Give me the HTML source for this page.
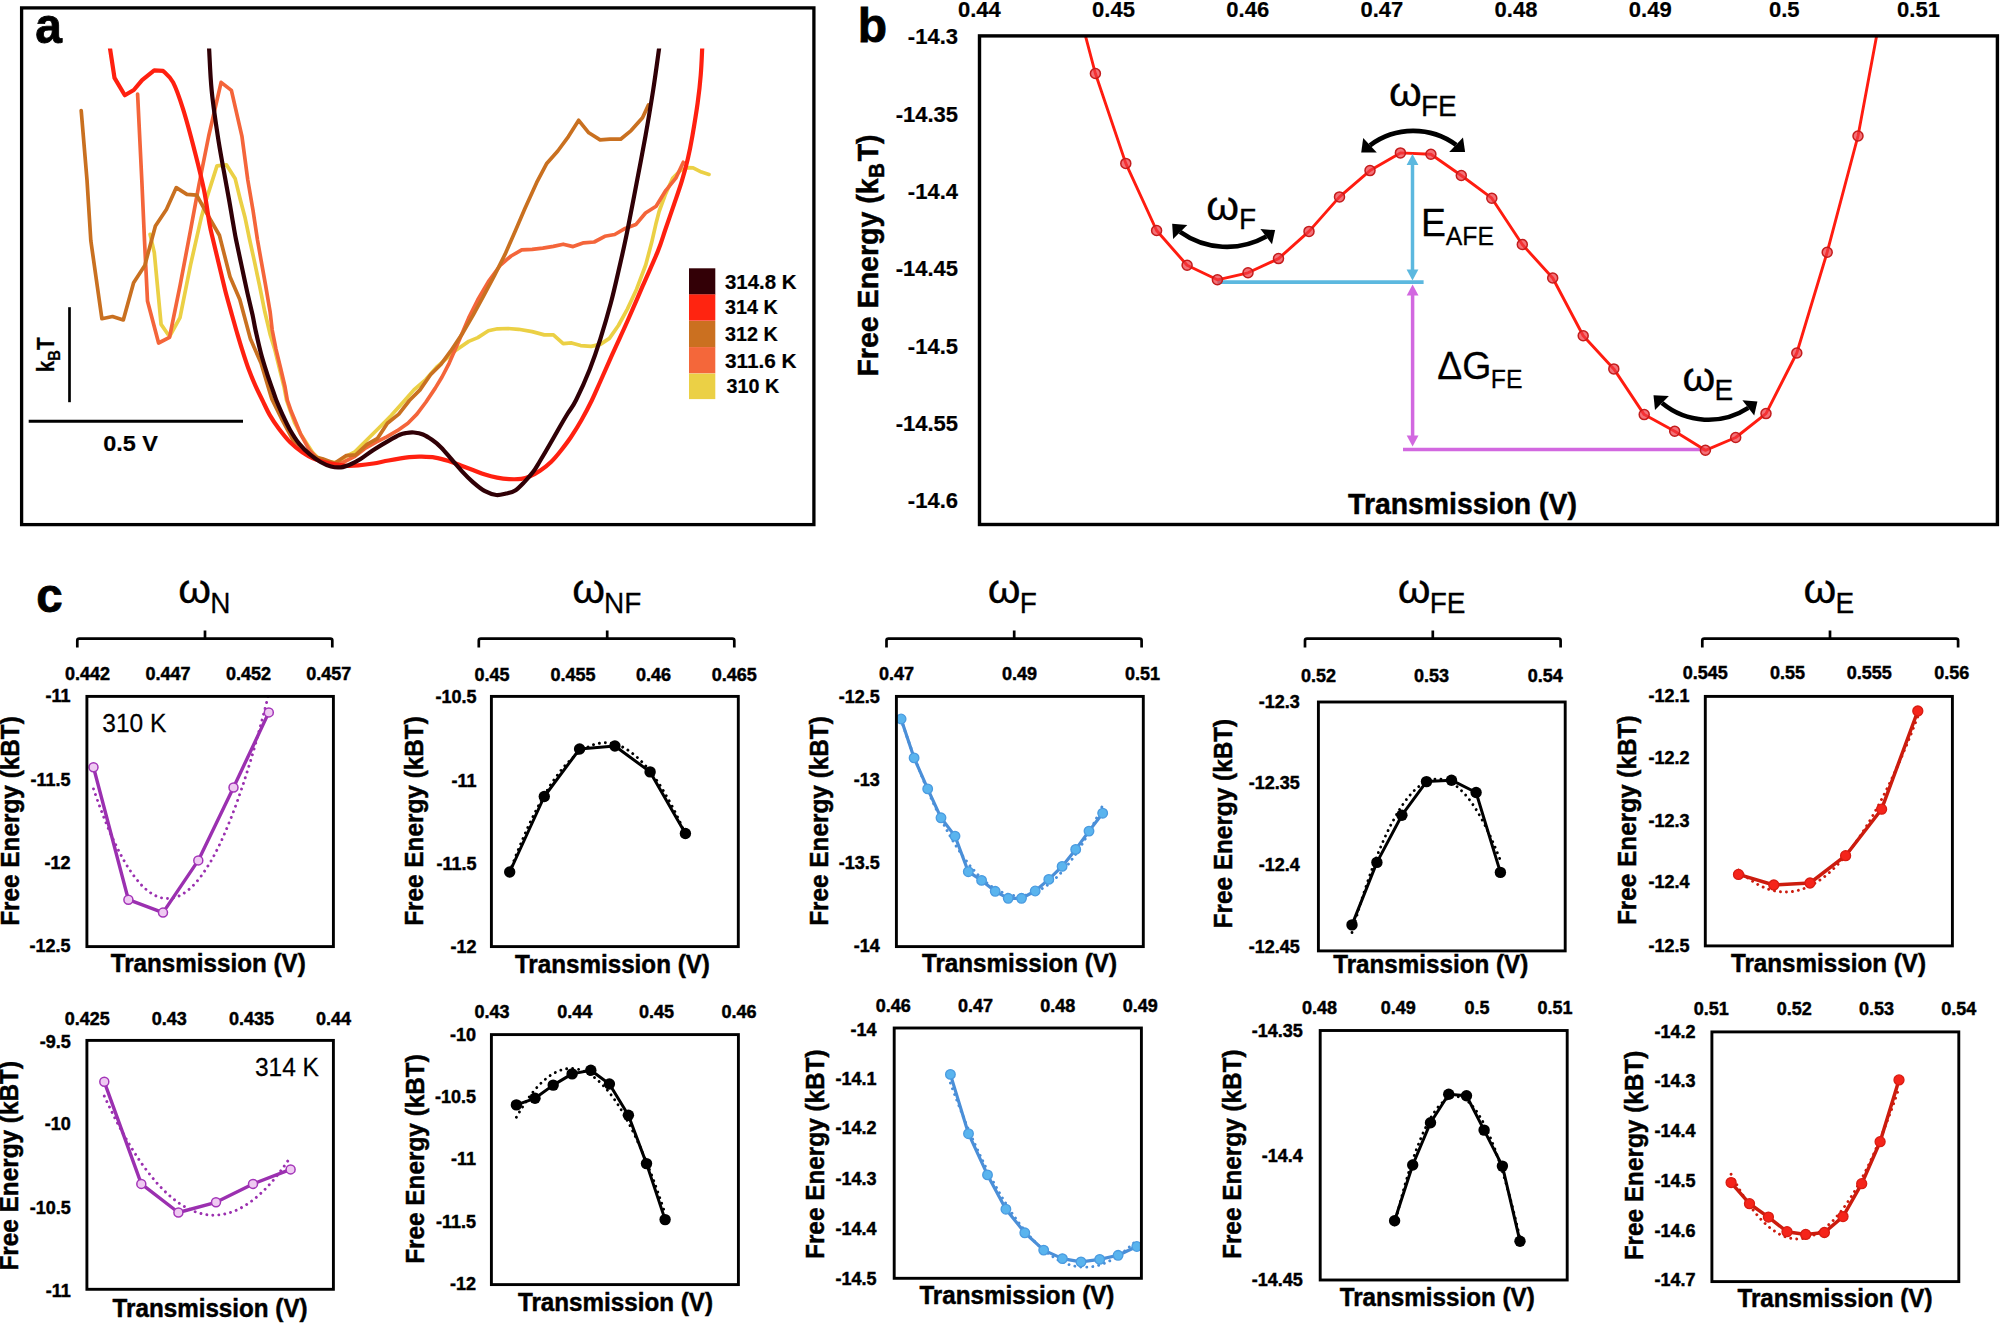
<!DOCTYPE html>
<html lang="en">
<head>
<meta charset="utf-8">
<title>Free energy landscapes</title>
<style>
html,body{margin:0;padding:0;background:#fff;}
body{width:2000px;height:1323px;overflow:hidden;}
svg{display:block;font-family:'Liberation Sans', sans-serif;fill:#000;}
</style>
</head>
<body>
<svg width="2000" height="1323" viewBox="0 0 2000 1323">
<rect x="0" y="0" width="2000" height="1323" fill="#fff"/>
<!-- panel a -->
<clipPath id="clipA"><rect x="24" y="48.4" width="788" height="474"/></clipPath>
<g clip-path="url(#clipA)" fill="none" stroke-linejoin="round" stroke-linecap="round">
<polyline points="150.1,234.4 154.3,252.6 161.1,324.4 169.5,336.5 180,317.6 190.6,264.7 201.2,217.8 207.2,196.6 217,165.9 226.4,164.8 235.1,178.4 240.4,200 245.1,217.8 249.7,240 254.2,260.4 259.5,285.4 264.8,311.8 270.3,335 274.6,348.9 279.3,367.8 284,386.7 286.5,400 290.5,411.3 294.6,422.7 300.6,434 306.9,443.8 312.9,452.9 317.4,457.4 325,461.5 336.8,462.5 345.9,456.4 354.9,451.9 367,439.8 379.1,427.7 391.2,415.6 403.3,402 413.9,389.9 426,379.3 436.6,367.2 448.7,356.6 456.6,349.7 468.7,341.4 477.8,337.6 488.4,330.8 497.5,328.8 508,328.5 518.6,329.3 532.2,331.6 544.3,334.9 553.4,334.9 563.2,343.7 571.6,342.9 580.6,345.6 591.2,346.4 600.3,344.4 609.4,338.4 618.4,325.5 627.5,308.9 636.6,289.2 645.7,265 651.7,242.3 656.2,222.7 659.1,211.5 665.2,194.8 672.7,178.2 680.3,170.6 687.9,167.6 693.1,167.9 701.5,172.1 709,174.4" stroke="#ebd045" stroke-width="3.7"/>
<polyline points="137.6,94.1 141.8,180 144.5,240.5 147.5,301 158.6,343 169.5,337.3 180,285.9 190.6,229.9 199,184.5 208.7,136 221.1,82.4 231.4,90.4 241.9,136.1 247.8,180 253,210.2 257.5,240 261.1,260.4 265.6,285.4 270.1,311.8 272.2,330 275.9,348.9 280.5,367.8 285,386.7 287.3,400 291.2,411.3 300.5,433.8 309.6,450.4 318.6,459.5 330.7,464 342.8,462.5 354.9,456.4 365.5,448.1 376.1,442.1 386.7,436.8 397.3,430.7 407.9,423.2 416.9,414.1 426,402 435.1,388.4 442,377 449.1,363.3 459.7,339.1 468.7,317.9 477.8,299.8 488.4,281.7 500.5,265 511.1,256 521.7,249.9 532.2,249.4 542.8,248.1 553.4,246.4 563.2,244.2 573.1,246.6 583.7,242.8 594.2,242 604.8,236.3 614.7,234.5 625.2,228.4 635.8,224.6 645.5,213 656.1,206.2 665.9,190.3 675.8,178.2 683.3,162.3" stroke="#f4653a" stroke-width="3.7"/>
<polyline points="81.2,110.7 87,180 90.8,240.5 101.9,318.7 112.5,316.5 123.3,319.9 133.6,282.8 144.8,265.4 155.4,226.1 166.4,209.5 176.3,187.6 186.9,194.4 196.7,195.1 208,215.5 219.4,235.2 230,276.8 239.8,299.5 250.4,338.8 261,363 271.8,399 282.3,420.1 292.9,439.8 303.5,448.9 312.6,456.4 322.4,458.7 334.5,463.2 345.9,455.7 355.7,454.9 367,444.3 377.6,438.3 387.4,423.2 398.8,414.1 409.4,400.5 420,389.9 430.5,374.8 441.1,364.2 450.6,351.2 462.7,333.1 473.3,314.9 483.9,295.3 494.4,275.6 505,254.4 515.6,230.2 524.7,209.1 536.6,182.7 546.5,163.8 557.8,151 568.4,136.6 578.7,120.3 588.8,132.8 600.1,139.9 610,139.2 620.6,139.2 631.1,130.6 642.5,117.7 648.5,104.9" stroke="#c97020" stroke-width="3.7"/>
<path d="M109.6 40 L110 48.4 L114.5 77.9 L124.8 95.3 L133.8 90 L142.1 80.1 L154.2 70.3 L163 70.8 L163 70.8 C164.7 72.7 169.8 76.1 173.1 82.4 C176.4 88.8 179.3 97.2 183 108.9 C186.7 120.6 191.6 139.1 195.1 152.7 C198.6 166.3 201.7 178.6 204.1 190.5 C206.5 202.4 208 215.7 209.5 223.9 C211 232.2 211.5 233.2 213.1 240 C214.7 246.8 217.1 256.6 219.1 264.9 C221.1 273.2 223 281.6 225.1 289.9 C227.2 298.2 230.1 308.1 231.9 314.8 C233.8 321.5 234.6 324.3 236.2 330 C237.9 335.7 239.8 342.3 241.9 348.9 C244 355.4 246.4 363.1 248.7 369.3 C251 375.5 253.2 380.8 255.5 385.9 C257.8 391 259.9 395.1 262.3 400 C264.7 404.9 267 410.3 269.8 415.1 C272.6 419.9 275.5 424.2 278.9 428.7 C282.3 433.2 286.3 438.4 290.2 442.3 C294.1 446.2 298.5 449.6 302.3 452.2 C306.1 454.8 309.2 456.6 312.9 458.2 C316.5 459.8 320.4 461 324.2 462 C328 463 331.8 463.7 335.6 464.3 C339.4 464.9 343.1 465.6 346.9 465.8 C350.7 466 353.9 465.8 358.3 465.4 C362.7 465 368.4 464.3 373.4 463.5 C378.4 462.7 382.5 461.6 388.5 460.5 C394.5 459.4 403.9 457.8 409.4 457.2 C414.9 456.6 417.2 456.6 421.5 456.7 C425.8 456.8 430.6 456.9 435.1 457.6 C439.6 458.3 444.4 459.7 448.7 461 C453 462.3 456.8 464 460.8 465.5 C464.8 467 468.9 468.5 472.9 470 C476.9 471.5 481 473.3 485 474.6 C489 475.9 493.1 476.9 497.1 477.6 C501.1 478.4 505.2 478.9 509.2 479.1 C513.2 479.3 517.8 479.3 521.3 478.8 C524.8 478.3 527.2 477.4 530.3 476.1 C533.4 474.8 536.5 473.2 540 470.8 C543.5 468.4 547.5 465.4 551 462 C554.5 458.6 557.7 454.7 561 450.5 C564.3 446.3 567.6 442.1 571 437 C574.4 431.9 578 426.2 581.5 420 C585 413.8 588.9 406.4 592 400 C595.1 393.6 596.9 389.1 600.3 381.5 C603.7 373.9 607.9 364.3 612.4 354.2 C616.9 344.1 622.5 332.3 627.5 321 C632.5 309.7 637.6 297.8 642.6 286.2 C647.6 274.6 654 260.8 657.8 251.4 C661.6 242 662.5 237.9 665.2 230 C667.9 222.1 671.4 212 674.2 203.9 C677 195.8 679.5 188.8 681.8 181.2 C684.1 173.6 686.1 166.1 687.9 158.5 C689.7 150.9 690.8 145.2 692.4 135.9 C694 126.6 696.3 112.7 697.7 102.6 C699.1 92.5 700 84.4 700.7 75.4 C701.5 66.4 701.9 54.3 702.2 48.4 C702.5 42.5 702.5 41.4 702.6 40" stroke="#ff2010" stroke-width="4.2"/>
<path d="M208.8 40 C208.9 41.4 208.6 40 209.1 48.4 C209.6 56.8 210.2 76.1 211.7 90.7 C213.1 105.3 215.8 122.7 217.8 136.1 C219.8 149.5 221.9 160.2 223.8 170.9 C225.7 181.6 227.5 191.2 229.1 200 C230.7 208.8 232 217.2 233.2 223.9 C234.4 230.6 234.7 233.2 236.1 240 C237.5 246.8 239.5 256.1 241.4 264.9 C243.3 273.7 245.5 284.4 247.4 292.9 C249.3 301.3 251.3 309.4 252.7 315.6 C254 321.8 254.2 323.8 255.5 330 C256.9 336.2 258.9 345.5 260.8 352.7 C262.7 359.9 264.9 366.8 266.9 373.1 C268.9 379.4 271.3 386 272.9 390.5 C274.5 395 274.6 395.9 276.2 400 C277.9 404.1 280.4 410.1 282.7 415.1 C285 420.1 287.4 425.4 290.2 430.2 C293 435 296 439.8 299.3 443.8 C302.6 447.8 306.4 451.4 309.9 454.4 C313.4 457.4 317 460 320.5 462 C324 464 327.6 465.6 331 466.5 C334.4 467.4 337.6 467.7 340.9 467.3 C344.2 466.9 347.4 465.6 350.7 464.2 C354 462.8 356.7 461.4 360.5 459 C364.3 456.6 368.7 452.9 373.4 449.9 C378.1 446.9 384.1 443.3 388.5 440.8 C392.9 438.3 396.8 436.1 399.8 434.8 C402.8 433.5 404 433.4 406.3 433 C408.6 432.6 411.1 432.2 413.9 432.5 C416.7 432.8 420 433.3 423 434.5 C426 435.7 429 437.7 432 439.8 C435 441.9 437.8 444.1 441.1 447.4 C444.4 450.7 448.2 455.5 451.7 459.5 C455.2 463.5 458.8 467.8 462.3 471.6 C465.8 475.4 469.1 478.8 472.9 482.1 C476.7 485.4 481.1 489.1 485 491.2 C488.9 493.3 492.8 494.6 496.3 495 C499.8 495.4 503 494.2 506.1 493.5 C509.2 492.8 512.2 492.4 515.2 490.5 C518.2 488.6 521.3 485.2 524.3 482.1 C527.3 479 530.8 475.1 533.4 471.6 C536 468.1 537.2 465.6 540 461 C542.8 456.4 546.7 449.8 550 444 C553.3 438.2 557 431.7 560 426.5 C563 421.3 565.3 417.4 568 413 C570.7 408.6 572.5 407.3 576.1 400 C579.7 392.7 585.7 379.5 589.7 369.4 C593.7 359.2 596.8 350.2 600.3 339.1 C603.8 328 607.6 315.2 610.9 302.8 C614.2 290.4 617.1 277.1 619.9 265 C622.7 252.9 624.8 243.7 627.5 230.2 C630.2 216.7 633.4 199.9 636.4 184.2 C639.4 168.5 642.7 151.5 645.5 135.9 C648.3 120.3 650.8 105.1 653.1 90.5 C655.4 75.9 657.9 56.8 659.1 48.4 C660.3 40 660 41.4 660.2 40" stroke="#300006" stroke-width="4.2"/>
</g>
<rect x="21.6" y="7.9" width="792.3" height="516.7" fill="none" stroke="#000" stroke-width="3.3"/>
<text transform="translate(35.3 42.6) scale(1 1.03)" font-size="48" font-weight="bold" text-anchor="start" stroke="#000" stroke-width="0.8">a</text>
<line x1="69.5" y1="307.2" x2="69.5" y2="402.2" stroke="#000" stroke-width="2.7"/>
<line x1="28.7" y1="421.3" x2="243" y2="421.3" stroke="#000" stroke-width="3"/>
<text transform="translate(130.6 450.8) scale(1 1.02)" font-size="22.5" font-weight="bold" text-anchor="middle" textLength="54.7" lengthAdjust="spacingAndGlyphs" stroke="#000" stroke-width="0.2">0.5 V</text>
<text transform="translate(53.7 372.2) rotate(-90) scale(0.885 1)" font-size="23.5" font-weight="bold" text-anchor="start" stroke="#000" stroke-width="0.3">k<tspan font-size="16.5" dy="6.5">B</tspan><tspan dy="-6.5">T</tspan></text>
<rect x="689" y="268.3" width="26.3" height="26.3" fill="#330006"/>
<text transform="translate(725 288.8) scale(1 1.02)" font-size="19.3" font-weight="bold" text-anchor="start" textLength="71.6" lengthAdjust="spacingAndGlyphs" stroke="#000" stroke-width="0.2">314.8 K</text>
<rect x="689" y="294.4" width="26.3" height="26.3" fill="#ff2410"/>
<text transform="translate(725 314.3) scale(1 1.02)" font-size="19.3" font-weight="bold" text-anchor="start" textLength="52.7" lengthAdjust="spacingAndGlyphs" stroke="#000" stroke-width="0.2">314 K</text>
<rect x="689" y="321" width="26.3" height="26.3" fill="#cb7020"/>
<text transform="translate(725 340.6) scale(1 1.02)" font-size="19.3" font-weight="bold" text-anchor="start" textLength="52.7" lengthAdjust="spacingAndGlyphs" stroke="#000" stroke-width="0.2">312 K</text>
<rect x="689" y="347.1" width="26.3" height="26.3" fill="#f4673a"/>
<text transform="translate(725 367.6) scale(1 1.02)" font-size="19.3" font-weight="bold" text-anchor="start" textLength="71.6" lengthAdjust="spacingAndGlyphs" stroke="#000" stroke-width="0.2">311.6 K</text>
<rect x="689" y="373.6" width="26.3" height="25.5" fill="#ebd045"/>
<text transform="translate(726.6 393.3) scale(1 1.02)" font-size="19.3" font-weight="bold" text-anchor="start" textLength="52.7" lengthAdjust="spacingAndGlyphs" stroke="#000" stroke-width="0.2">310 K</text>
<!-- panel b -->
<text transform="translate(857.7 42) scale(1 1)" font-size="48" font-weight="bold" text-anchor="start" stroke="#000" stroke-width="0.8">b</text>
<clipPath id="clipB"><rect x="979.5" y="35.9" width="1017.9" height="488.6"/></clipPath>
<line x1="1217.4" y1="282.1" x2="1423.6" y2="282.1" stroke="#5cb8df" stroke-width="3.6"/>
<line x1="1403" y1="449.5" x2="1705.4" y2="449.5" stroke="#d268e0" stroke-width="3.6"/>
<g clip-path="url(#clipB)">
<polyline points="1064.9,-41.8 1095.4,73.5 1125.8,163.4 1156.6,230.5 1187.1,265.3 1217.4,279.8 1248,272.8 1278.5,258.6 1309,231.4 1339.5,196.9 1370,170.6 1400.4,152.9 1430.9,154.3 1461.3,175.5 1491.8,198.2 1522.3,244.5 1552.7,278 1583.2,335.8 1613.8,368.9 1644.2,414.6 1674.7,431.2 1705.4,450.3 1735.7,437.5 1766,413.6 1796.8,353 1827.2,252.2 1858,136 1888.5,-28" fill="none" stroke="#ff1c10" stroke-width="2.9" stroke-linejoin="round"/>
</g>
<line x1="1412.5" y1="164" x2="1412.5" y2="270.4" stroke="#5cb8df" stroke-width="3.5"/>
<polygon points="1412.5,154 1406.6,165 1418.4,165" fill="#5cb8df"/>
<polygon points="1412.5,280.4 1406.6,269.4 1418.4,269.4" fill="#5cb8df"/>
<line x1="1412.6" y1="294.6" x2="1412.6" y2="436.6" stroke="#d268e0" stroke-width="3.5"/>
<polygon points="1412.6,284.6 1406.7,295.6 1418.5,295.6" fill="#d268e0"/>
<polygon points="1412.6,446.6 1406.7,435.6 1418.5,435.6" fill="#d268e0"/>
<circle cx="1095.4" cy="73.5" r="5" fill="#f03a42" fill-opacity="0.72" stroke="#c41c1c" stroke-width="1.5"/>
<circle cx="1125.8" cy="163.4" r="5" fill="#f03a42" fill-opacity="0.72" stroke="#c41c1c" stroke-width="1.5"/>
<circle cx="1156.6" cy="230.5" r="5" fill="#f03a42" fill-opacity="0.72" stroke="#c41c1c" stroke-width="1.5"/>
<circle cx="1187.1" cy="265.3" r="5" fill="#f03a42" fill-opacity="0.72" stroke="#c41c1c" stroke-width="1.5"/>
<circle cx="1217.4" cy="279.8" r="5" fill="#f03a42" fill-opacity="0.72" stroke="#c41c1c" stroke-width="1.5"/>
<circle cx="1248" cy="272.8" r="5" fill="#f03a42" fill-opacity="0.72" stroke="#c41c1c" stroke-width="1.5"/>
<circle cx="1278.5" cy="258.6" r="5" fill="#f03a42" fill-opacity="0.72" stroke="#c41c1c" stroke-width="1.5"/>
<circle cx="1309" cy="231.4" r="5" fill="#f03a42" fill-opacity="0.72" stroke="#c41c1c" stroke-width="1.5"/>
<circle cx="1339.5" cy="196.9" r="5" fill="#f03a42" fill-opacity="0.72" stroke="#c41c1c" stroke-width="1.5"/>
<circle cx="1370" cy="170.6" r="5" fill="#f03a42" fill-opacity="0.72" stroke="#c41c1c" stroke-width="1.5"/>
<circle cx="1400.4" cy="152.9" r="5" fill="#f03a42" fill-opacity="0.72" stroke="#c41c1c" stroke-width="1.5"/>
<circle cx="1430.9" cy="154.3" r="5" fill="#f03a42" fill-opacity="0.72" stroke="#c41c1c" stroke-width="1.5"/>
<circle cx="1461.3" cy="175.5" r="5" fill="#f03a42" fill-opacity="0.72" stroke="#c41c1c" stroke-width="1.5"/>
<circle cx="1491.8" cy="198.2" r="5" fill="#f03a42" fill-opacity="0.72" stroke="#c41c1c" stroke-width="1.5"/>
<circle cx="1522.3" cy="244.5" r="5" fill="#f03a42" fill-opacity="0.72" stroke="#c41c1c" stroke-width="1.5"/>
<circle cx="1552.7" cy="278" r="5" fill="#f03a42" fill-opacity="0.72" stroke="#c41c1c" stroke-width="1.5"/>
<circle cx="1583.2" cy="335.8" r="5" fill="#f03a42" fill-opacity="0.72" stroke="#c41c1c" stroke-width="1.5"/>
<circle cx="1613.8" cy="368.9" r="5" fill="#f03a42" fill-opacity="0.72" stroke="#c41c1c" stroke-width="1.5"/>
<circle cx="1644.2" cy="414.6" r="5" fill="#f03a42" fill-opacity="0.72" stroke="#c41c1c" stroke-width="1.5"/>
<circle cx="1674.7" cy="431.2" r="5" fill="#f03a42" fill-opacity="0.72" stroke="#c41c1c" stroke-width="1.5"/>
<circle cx="1705.4" cy="450.3" r="5" fill="#f03a42" fill-opacity="0.72" stroke="#c41c1c" stroke-width="1.5"/>
<circle cx="1735.7" cy="437.5" r="5" fill="#f03a42" fill-opacity="0.72" stroke="#c41c1c" stroke-width="1.5"/>
<circle cx="1766" cy="413.6" r="5" fill="#f03a42" fill-opacity="0.72" stroke="#c41c1c" stroke-width="1.5"/>
<circle cx="1796.8" cy="353" r="5" fill="#f03a42" fill-opacity="0.72" stroke="#c41c1c" stroke-width="1.5"/>
<circle cx="1827.2" cy="252.2" r="5" fill="#f03a42" fill-opacity="0.72" stroke="#c41c1c" stroke-width="1.5"/>
<circle cx="1858" cy="136" r="5" fill="#f03a42" fill-opacity="0.72" stroke="#c41c1c" stroke-width="1.5"/>
<rect x="979.5" y="35.9" width="1017.9" height="488.6" fill="none" stroke="#000" stroke-width="3.4"/>
<text transform="translate(979.4 17) scale(1 1.04)" font-size="22" font-weight="bold" text-anchor="middle" stroke="#000" stroke-width="0.2">0.44</text>
<text transform="translate(1113.5 17) scale(1 1.04)" font-size="22" font-weight="bold" text-anchor="middle" stroke="#000" stroke-width="0.2">0.45</text>
<text transform="translate(1247.7 17) scale(1 1.04)" font-size="22" font-weight="bold" text-anchor="middle" stroke="#000" stroke-width="0.2">0.46</text>
<text transform="translate(1381.8 17) scale(1 1.04)" font-size="22" font-weight="bold" text-anchor="middle" stroke="#000" stroke-width="0.2">0.47</text>
<text transform="translate(1516 17) scale(1 1.04)" font-size="22" font-weight="bold" text-anchor="middle" stroke="#000" stroke-width="0.2">0.48</text>
<text transform="translate(1650.2 17) scale(1 1.04)" font-size="22" font-weight="bold" text-anchor="middle" stroke="#000" stroke-width="0.2">0.49</text>
<text transform="translate(1784.3 17) scale(1 1.04)" font-size="22" font-weight="bold" text-anchor="middle" stroke="#000" stroke-width="0.2">0.5</text>
<text transform="translate(1918.5 17) scale(1 1.04)" font-size="22" font-weight="bold" text-anchor="middle" stroke="#000" stroke-width="0.2">0.51</text>
<text transform="translate(958 44.2) scale(1 1.04)" font-size="22" font-weight="bold" text-anchor="end" stroke="#000" stroke-width="0.2">-14.3</text>
<text transform="translate(958 121.5) scale(1 1.04)" font-size="22" font-weight="bold" text-anchor="end" stroke="#000" stroke-width="0.2">-14.35</text>
<text transform="translate(958 198.8) scale(1 1.04)" font-size="22" font-weight="bold" text-anchor="end" stroke="#000" stroke-width="0.2">-14.4</text>
<text transform="translate(958 276.2) scale(1 1.04)" font-size="22" font-weight="bold" text-anchor="end" stroke="#000" stroke-width="0.2">-14.45</text>
<text transform="translate(958 353.5) scale(1 1.04)" font-size="22" font-weight="bold" text-anchor="end" stroke="#000" stroke-width="0.2">-14.5</text>
<text transform="translate(958 430.8) scale(1 1.04)" font-size="22" font-weight="bold" text-anchor="end" stroke="#000" stroke-width="0.2">-14.55</text>
<text transform="translate(958 508.1) scale(1 1.04)" font-size="22" font-weight="bold" text-anchor="end" stroke="#000" stroke-width="0.2">-14.6</text>
<text transform="translate(877.7 255.5) rotate(-90) scale(1 1.065)" font-size="28.55" font-weight="bold" text-anchor="middle" stroke="#000" stroke-width="0.45">Free Energy (k<tspan font-size="20.2" dx="0.7" dy="6">B</tspan><tspan dx="1.7" dy="-6">T)</tspan></text>
<text transform="translate(1462.5 514.3) scale(1 1.07)" font-size="28.4" font-weight="bold" text-anchor="middle" stroke="#000" stroke-width="0.45">Transmission (V)</text>
<path d="M1180.1 231.9 A80.5 80.5 0 0 0 1266.3 236.6" fill="none" stroke="#000" stroke-width="4.6"/>
<polygon points="1172.2,223.8 1187.3,225.1 1173.1,238.9" fill="#000"/>
<polygon points="1275.1,230.1 1260.4,229.1 1272,244.3" fill="#000"/>
<path d="M1370 145.3 A72.3 72.3 0 0 1 1456.1 144.9" fill="none" stroke="#000" stroke-width="4.6"/>
<polygon points="1361.2,152.5 1376.8,152.5 1363.2,138" fill="#000"/>
<polygon points="1465.1,152.1 1449.2,152.1 1463,137.6" fill="#000"/>
<path d="M1662 403.1 A72.8 72.8 0 0 0 1748.3 407.9" fill="none" stroke="#000" stroke-width="4.6"/>
<polygon points="1653.5,395.2 1668.9,396.1 1655,410.1" fill="#000"/>
<polygon points="1757.4,401.6 1742.4,400.3 1754.2,415.5" fill="#000"/>
<text transform="translate(1206.2 219.7) scale(1.05 1)" font-size="40" font-weight="normal" text-anchor="start" stroke="#000" stroke-width="0.3">&#969;</text>
<text transform="translate(1239 229) scale(1 1.04)" font-size="28" font-weight="normal" text-anchor="start" stroke="#000" stroke-width="0.25">F</text>
<text transform="translate(1389 106.1) scale(1.05 1)" font-size="40" font-weight="normal" text-anchor="start" stroke="#000" stroke-width="0.3">&#969;</text>
<text transform="translate(1421 115.5) scale(1 1.04)" font-size="28" font-weight="normal" text-anchor="start" stroke="#000" stroke-width="0.25">FE</text>
<text transform="translate(1682.5 390.9) scale(1.05 1)" font-size="40" font-weight="normal" text-anchor="start" stroke="#000" stroke-width="0.3">&#969;</text>
<text transform="translate(1714.5 400) scale(1 1.04)" font-size="28" font-weight="normal" text-anchor="start" stroke="#000" stroke-width="0.25">E</text>
<text transform="translate(1421 236) scale(1 1.04)" font-size="37.4" font-weight="normal" text-anchor="start" stroke="#000" stroke-width="0.25">E</text>
<text transform="translate(1445.7 244.8) scale(1 1.04)" font-size="24.8" font-weight="normal" text-anchor="start" stroke="#000" stroke-width="0.25">AFE</text>
<text transform="translate(1437.2 379.2) scale(1 1.04)" font-size="37.4" font-weight="normal" text-anchor="start" stroke="#000" stroke-width="0.25">&#916;G</text>
<text transform="translate(1490.8 388) scale(1 1.04)" font-size="24.8" font-weight="normal" text-anchor="start" stroke="#000" stroke-width="0.25">FE</text>
<!-- panel c -->
<text transform="translate(36.3 612) scale(1 1)" font-size="47.5" font-weight="bold" text-anchor="start" stroke="#000" stroke-width="0.8">c</text>
<path d="M77.3 647.4 V640.5 Q77.3 638.6 79.3 638.6 H330.3 Q332.3 638.6 332.3 640.5 V647.4 M205 638.6 V630.4" fill="none" stroke="#000" stroke-width="2.7"/>
<text transform="translate(178.2 603.4) scale(1.05 1)" font-size="40" font-weight="normal" text-anchor="start" stroke="#000" stroke-width="0.3">&#969;</text>
<text transform="translate(210.2 612.7) scale(1 1.04)" font-size="28" font-weight="normal" text-anchor="start" stroke="#000" stroke-width="0.25">N</text>
<clipPath id="c107"><rect x="86.9" y="696.4" width="246.5" height="250.2"/></clipPath>
<g clip-path="url(#c107)" fill="none">
<polyline points="93.5,767.3 128.4,899.7 163,912.6 198.3,860.4 233.5,787.5 268.8,712.4" stroke="#9b30b0" stroke-width="3.4" stroke-linejoin="round"/>
<path d="M93.5 788.9 C94.2 791 96.5 797.6 98 801.8 C99.5 805.9 101 810 102.5 813.9 C104 817.8 105.5 821.5 107 825.2 C108.5 828.8 110 832.3 111.5 835.7 C113 839 114.5 842.2 116 845.3 C117.5 848.4 119 851.4 120.5 854.2 C122 857 123.5 859.7 125 862.3 C126.5 864.8 128 867.3 129.5 869.5 C131 871.8 132.5 874 134 876 C135.5 878 137 879.9 138.4 881.6 C139.9 883.4 141.4 885 142.9 886.5 C144.4 887.9 145.9 889.3 147.4 890.5 C148.9 891.7 150.4 892.8 151.9 893.7 C153.4 894.6 154.9 895.4 156.4 896.1 C157.9 896.8 159.4 897.3 160.9 897.7 C162.4 898.1 163.9 898.4 165.4 898.5 C166.9 898.6 168.4 898.6 169.9 898.5 C171.4 898.3 172.9 898.1 174.4 897.7 C175.9 897.2 177.4 896.7 178.9 896 C180.4 895.3 181.9 894.5 183.4 893.6 C184.9 892.6 186.4 891.5 187.9 890.3 C189.4 889.1 190.9 887.8 192.4 886.3 C193.9 884.8 195.4 883.2 196.9 881.4 C198.4 879.6 199.9 877.8 201.4 875.7 C202.9 873.7 204.4 871.5 205.9 869.2 C207.4 866.9 208.9 864.5 210.4 862 C211.9 859.4 213.4 856.7 214.9 853.9 C216.4 851 217.9 848.1 219.4 844.9 C220.9 841.8 222.4 838.6 223.9 835.2 C225.3 831.9 226.8 828.4 228.3 824.7 C229.8 821.1 231.3 817.3 232.8 813.4 C234.3 809.5 235.8 805.4 237.3 801.2 C238.8 797.1 240.3 792.7 241.8 788.3 C243.3 783.8 244.8 779.3 246.3 774.5 C247.8 769.8 249.3 765 250.8 760 C252.3 755 253.8 749.9 255.3 744.6 C256.8 739.3 258.3 733.9 259.8 728.4 C261.3 722.9 262.8 717.2 264.3 711.4 C265.8 705.6 268.1 696.6 268.8 693.6" stroke="#9b30b0" stroke-width="2.9" stroke-linecap="round" stroke-dasharray="0.01 6"/>
<circle cx="93.5" cy="767.3" r="4.5" fill="#efcaf2" stroke="#a335b8" stroke-width="1.5"/>
<circle cx="128.4" cy="899.7" r="4.5" fill="#efcaf2" stroke="#a335b8" stroke-width="1.5"/>
<circle cx="163" cy="912.6" r="4.5" fill="#efcaf2" stroke="#a335b8" stroke-width="1.5"/>
<circle cx="198.3" cy="860.4" r="4.5" fill="#efcaf2" stroke="#a335b8" stroke-width="1.5"/>
<circle cx="233.5" cy="787.5" r="4.5" fill="#efcaf2" stroke="#a335b8" stroke-width="1.5"/>
<circle cx="268.8" cy="712.4" r="4.5" fill="#efcaf2" stroke="#a335b8" stroke-width="1.5"/>
</g>
<rect x="86.9" y="696.4" width="246.5" height="250.2" fill="none" stroke="#000" stroke-width="2.9"/>
<text transform="translate(87.5 679.7) scale(1 1.07)" font-size="18" font-weight="bold" text-anchor="middle" stroke="#000" stroke-width="0.45">0.442</text>
<text transform="translate(168 679.7) scale(1 1.07)" font-size="18" font-weight="bold" text-anchor="middle" stroke="#000" stroke-width="0.45">0.447</text>
<text transform="translate(248.5 679.7) scale(1 1.07)" font-size="18" font-weight="bold" text-anchor="middle" stroke="#000" stroke-width="0.45">0.452</text>
<text transform="translate(328.7 679.7) scale(1 1.07)" font-size="18" font-weight="bold" text-anchor="middle" stroke="#000" stroke-width="0.45">0.457</text>
<text transform="translate(70.5 702.4) scale(1 1.07)" font-size="18" font-weight="bold" text-anchor="end" stroke="#000" stroke-width="0.45">-11</text>
<text transform="translate(70.5 785.8) scale(1 1.07)" font-size="18" font-weight="bold" text-anchor="end" stroke="#000" stroke-width="0.45">-11.5</text>
<text transform="translate(70.5 869.1) scale(1 1.07)" font-size="18" font-weight="bold" text-anchor="end" stroke="#000" stroke-width="0.45">-12</text>
<text transform="translate(70.5 952.4) scale(1 1.07)" font-size="18" font-weight="bold" text-anchor="end" stroke="#000" stroke-width="0.45">-12.5</text>
<text transform="translate(18.9 821) rotate(-90) scale(1 1.07)" font-size="24" font-weight="bold" text-anchor="middle" textLength="209.6" lengthAdjust="spacingAndGlyphs" stroke="#000" stroke-width="0.45">Free Energy (kBT)</text>
<text transform="translate(208.2 972) scale(1 1.07)" font-size="24" font-weight="bold" text-anchor="middle" textLength="195" lengthAdjust="spacingAndGlyphs" stroke="#000" stroke-width="0.45">Transmission (V)</text>
<text transform="translate(102.3 731.8) scale(1 1.04)" font-size="24.5" font-weight="normal" text-anchor="start" stroke="#000" stroke-width="0.25">310 K</text>
<clipPath id="c130"><rect x="86.9" y="1040.4" width="246.5" height="248.9"/></clipPath>
<g clip-path="url(#c130)" fill="none">
<polyline points="104.3,1081.8 141.3,1183.9 178.4,1212.5 216,1202.3 253,1183.9 290.6,1169.4" stroke="#9b30b0" stroke-width="3.4" stroke-linejoin="round"/>
<path d="M104.3 1096.1 C105.1 1097.8 107.5 1102.9 109.1 1106.3 C110.7 1109.6 112.3 1112.8 113.9 1116 C115.4 1119.1 117 1122.2 118.6 1125.2 C120.2 1128.2 121.8 1131.1 123.4 1134 C125 1136.9 126.6 1139.6 128.2 1142.4 C129.8 1145.1 131.4 1147.7 133 1150.2 C134.6 1152.8 136.1 1155.3 137.7 1157.7 C139.3 1160.1 140.9 1162.4 142.5 1164.7 C144.1 1166.9 145.7 1169.1 147.3 1171.2 C148.9 1173.3 150.5 1175.3 152.1 1177.3 C153.7 1179.2 155.3 1181.1 156.8 1182.9 C158.4 1184.7 160 1186.4 161.6 1188.1 C163.2 1189.7 164.8 1191.3 166.4 1192.8 C168 1194.3 169.6 1195.7 171.2 1197.1 C172.8 1198.4 174.4 1199.7 176 1200.9 C177.5 1202.1 179.1 1203.2 180.7 1204.3 C182.3 1205.3 183.9 1206.3 185.5 1207.2 C187.1 1208.1 188.7 1208.9 190.3 1209.7 C191.9 1210.4 193.5 1211.1 195.1 1211.7 C196.7 1212.3 198.2 1212.8 199.8 1213.2 C201.4 1213.7 203 1214 204.6 1214.3 C206.2 1214.6 207.8 1214.8 209.4 1215 C211 1215.1 212.6 1215.2 214.2 1215.2 C215.8 1215.2 217.4 1215.1 218.9 1214.9 C220.5 1214.8 222.1 1214.5 223.7 1214.2 C225.3 1213.9 226.9 1213.5 228.5 1213.1 C230.1 1212.6 231.7 1212.1 233.3 1211.5 C234.9 1210.9 236.5 1210.2 238.1 1209.4 C239.6 1208.6 241.2 1207.8 242.8 1206.9 C244.4 1206 246 1205 247.6 1203.9 C249.2 1202.9 250.8 1201.7 252.4 1200.5 C254 1199.3 255.6 1198 257.2 1196.6 C258.8 1195.3 260.3 1193.8 261.9 1192.3 C263.5 1190.8 265.1 1189.2 266.7 1187.5 C268.3 1185.9 269.9 1184.1 271.5 1182.3 C273.1 1180.5 274.7 1178.6 276.3 1176.6 C277.9 1174.7 279.5 1172.6 281 1170.5 C282.6 1168.4 284.2 1166.2 285.8 1163.9 C287.4 1161.6 289.8 1158 290.6 1156.9" stroke="#9b30b0" stroke-width="2.9" stroke-linecap="round" stroke-dasharray="0.01 6"/>
<circle cx="104.3" cy="1081.8" r="4.5" fill="#efcaf2" stroke="#a335b8" stroke-width="1.5"/>
<circle cx="141.3" cy="1183.9" r="4.5" fill="#efcaf2" stroke="#a335b8" stroke-width="1.5"/>
<circle cx="178.4" cy="1212.5" r="4.5" fill="#efcaf2" stroke="#a335b8" stroke-width="1.5"/>
<circle cx="216" cy="1202.3" r="4.5" fill="#efcaf2" stroke="#a335b8" stroke-width="1.5"/>
<circle cx="253" cy="1183.9" r="4.5" fill="#efcaf2" stroke="#a335b8" stroke-width="1.5"/>
<circle cx="290.6" cy="1169.4" r="4.5" fill="#efcaf2" stroke="#a335b8" stroke-width="1.5"/>
</g>
<rect x="86.9" y="1040.4" width="246.5" height="248.9" fill="none" stroke="#000" stroke-width="2.9"/>
<text transform="translate(87.3 1024.9) scale(1 1.07)" font-size="18" font-weight="bold" text-anchor="middle" stroke="#000" stroke-width="0.45">0.425</text>
<text transform="translate(169.3 1024.9) scale(1 1.07)" font-size="18" font-weight="bold" text-anchor="middle" stroke="#000" stroke-width="0.45">0.43</text>
<text transform="translate(251.4 1024.9) scale(1 1.07)" font-size="18" font-weight="bold" text-anchor="middle" stroke="#000" stroke-width="0.45">0.435</text>
<text transform="translate(333.4 1024.9) scale(1 1.07)" font-size="18" font-weight="bold" text-anchor="middle" stroke="#000" stroke-width="0.45">0.44</text>
<text transform="translate(70.8 1047.6) scale(1 1.07)" font-size="18" font-weight="bold" text-anchor="end" stroke="#000" stroke-width="0.45">-9.5</text>
<text transform="translate(70.8 1130.4) scale(1 1.07)" font-size="18" font-weight="bold" text-anchor="end" stroke="#000" stroke-width="0.45">-10</text>
<text transform="translate(70.8 1213.9) scale(1 1.07)" font-size="18" font-weight="bold" text-anchor="end" stroke="#000" stroke-width="0.45">-10.5</text>
<text transform="translate(70.8 1296.6) scale(1 1.07)" font-size="18" font-weight="bold" text-anchor="end" stroke="#000" stroke-width="0.45">-11</text>
<text transform="translate(18.2 1165.8) rotate(-90) scale(1 1.07)" font-size="24" font-weight="bold" text-anchor="middle" textLength="209.6" lengthAdjust="spacingAndGlyphs" stroke="#000" stroke-width="0.45">Free Energy (kBT)</text>
<text transform="translate(210.1 1316.5) scale(1 1.07)" font-size="24" font-weight="bold" text-anchor="middle" textLength="195" lengthAdjust="spacingAndGlyphs" stroke="#000" stroke-width="0.45">Transmission (V)</text>
<text transform="translate(318.9 1075.8) scale(1 1.04)" font-size="24.5" font-weight="normal" text-anchor="end" stroke="#000" stroke-width="0.25">314 K</text>
<path d="M478.8 647.4 V640.5 Q478.8 638.6 480.8 638.6 H732.3 Q734.3 638.6 734.3 640.5 V647.4 M607.2 638.6 V630.4" fill="none" stroke="#000" stroke-width="2.7"/>
<text transform="translate(572.2 603.4) scale(1.05 1)" font-size="40" font-weight="normal" text-anchor="start" stroke="#000" stroke-width="0.3">&#969;</text>
<text transform="translate(604.1 612.7) scale(1 1.04)" font-size="28" font-weight="normal" text-anchor="start" stroke="#000" stroke-width="0.25">NF</text>
<clipPath id="c156"><rect x="491.4" y="696.4" width="246.9" height="250.2"/></clipPath>
<g clip-path="url(#c156)" fill="none">
<polyline points="509.7,872 544.3,796.5 579.6,749 614.9,746 650.1,771.9 685.4,833.5" stroke="#000" stroke-width="3" stroke-linejoin="round"/>
<path d="M509.7 872 C510.5 870 512.7 864 514.2 860.1 C515.7 856.2 517.2 852.4 518.7 848.8 C520.2 845.1 521.7 841.5 523.2 838 C524.7 834.5 526.2 831.1 527.7 827.8 C529.2 824.5 530.7 821.3 532.2 818.2 C533.7 815.1 535.2 812.1 536.7 809.2 C538.2 806.3 539.7 803.4 541.2 800.7 C542.7 798 544.2 795.4 545.7 792.8 C547.2 790.3 548.7 787.9 550.2 785.5 C551.7 783.2 553.2 780.9 554.8 778.8 C556.3 776.7 557.8 774.6 559.3 772.6 C560.8 770.7 562.3 768.8 563.8 767.1 C565.3 765.3 566.8 763.6 568.3 762.1 C569.8 760.5 571.3 759 572.8 757.6 C574.3 756.3 575.8 755 577.3 753.8 C578.8 752.6 580.3 751.5 581.8 750.5 C583.3 749.5 584.8 748.6 586.3 747.8 C587.8 747 589.3 746.3 590.8 745.7 C592.3 745.1 593.8 744.6 595.3 744.1 C596.8 743.7 598.3 743.4 599.8 743.2 C601.3 742.9 602.8 742.8 604.3 742.8 C605.8 742.7 607.3 742.8 608.8 743 C610.3 743.1 611.8 743.4 613.3 743.7 C614.8 744.1 616.3 744.5 617.8 745 C619.3 745.6 620.8 746.2 622.3 746.9 C623.8 747.7 625.3 748.5 626.8 749.4 C628.3 750.3 629.8 751.4 631.3 752.5 C632.8 753.6 634.3 754.8 635.8 756.1 C637.3 757.4 638.8 758.8 640.3 760.3 C641.9 761.8 643.4 763.4 644.9 765.1 C646.4 766.8 647.9 768.6 649.4 770.5 C650.9 772.3 652.4 774.3 653.9 776.4 C655.4 778.5 656.9 780.6 658.4 782.9 C659.9 785.2 661.4 787.5 662.9 790 C664.4 792.5 665.9 795 667.4 797.7 C668.9 800.3 670.4 803.1 671.9 805.9 C673.4 808.7 674.9 811.7 676.4 814.7 C677.9 817.7 679.4 820.9 680.9 824.1 C682.4 827.3 684.6 832.4 685.4 834.1" stroke="#000" stroke-width="2.9" stroke-linecap="round" stroke-dasharray="0.01 6"/>
<circle cx="509.7" cy="872" r="5.7" fill="#000" stroke="#000" stroke-width="0"/>
<circle cx="544.3" cy="796.5" r="5.7" fill="#000" stroke="#000" stroke-width="0"/>
<circle cx="579.6" cy="749" r="5.7" fill="#000" stroke="#000" stroke-width="0"/>
<circle cx="614.9" cy="746" r="5.7" fill="#000" stroke="#000" stroke-width="0"/>
<circle cx="650.1" cy="771.9" r="5.7" fill="#000" stroke="#000" stroke-width="0"/>
<circle cx="685.4" cy="833.5" r="5.7" fill="#000" stroke="#000" stroke-width="0"/>
</g>
<rect x="491.4" y="696.4" width="246.9" height="250.2" fill="none" stroke="#000" stroke-width="2.9"/>
<text transform="translate(492.1 681.2) scale(1 1.07)" font-size="18" font-weight="bold" text-anchor="middle" stroke="#000" stroke-width="0.45">0.45</text>
<text transform="translate(573 681.2) scale(1 1.07)" font-size="18" font-weight="bold" text-anchor="middle" stroke="#000" stroke-width="0.45">0.455</text>
<text transform="translate(653.5 681.2) scale(1 1.07)" font-size="18" font-weight="bold" text-anchor="middle" stroke="#000" stroke-width="0.45">0.46</text>
<text transform="translate(734.3 681.2) scale(1 1.07)" font-size="18" font-weight="bold" text-anchor="middle" stroke="#000" stroke-width="0.45">0.465</text>
<text transform="translate(476.5 703.4) scale(1 1.07)" font-size="18" font-weight="bold" text-anchor="end" stroke="#000" stroke-width="0.45">-10.5</text>
<text transform="translate(476.5 786.6) scale(1 1.07)" font-size="18" font-weight="bold" text-anchor="end" stroke="#000" stroke-width="0.45">-11</text>
<text transform="translate(476.5 869.8) scale(1 1.07)" font-size="18" font-weight="bold" text-anchor="end" stroke="#000" stroke-width="0.45">-11.5</text>
<text transform="translate(476.5 953) scale(1 1.07)" font-size="18" font-weight="bold" text-anchor="end" stroke="#000" stroke-width="0.45">-12</text>
<text transform="translate(423.2 821) rotate(-90) scale(1 1.07)" font-size="24" font-weight="bold" text-anchor="middle" textLength="209.6" lengthAdjust="spacingAndGlyphs" stroke="#000" stroke-width="0.45">Free Energy (kBT)</text>
<text transform="translate(612.4 973.2) scale(1 1.07)" font-size="24" font-weight="bold" text-anchor="middle" textLength="195" lengthAdjust="spacingAndGlyphs" stroke="#000" stroke-width="0.45">Transmission (V)</text>
<clipPath id="c178"><rect x="491.4" y="1034.6" width="247" height="250"/></clipPath>
<g clip-path="url(#c178)" fill="none">
<polyline points="516.4,1104.9 535,1098.3 553.2,1085.1 572.1,1073.9 590.8,1070.3 609.4,1084 628.4,1115.3 646.5,1163.6 665.1,1219.6" stroke="#000" stroke-width="3" stroke-linejoin="round"/>
<path d="M516.4 1117.3 C517 1116.2 518.9 1112.9 520.2 1110.7 C521.5 1108.6 522.8 1106.6 524 1104.6 C525.3 1102.7 526.6 1100.8 527.8 1099 C529.1 1097.2 530.4 1095.5 531.7 1093.8 C532.9 1092.2 534.2 1090.6 535.5 1089.1 C536.7 1087.7 538 1086.3 539.3 1084.9 C540.5 1083.6 541.8 1082.4 543.1 1081.2 C544.4 1080.1 545.6 1079 546.9 1078 C548.2 1077 549.4 1076 550.7 1075.2 C552 1074.3 553.3 1073.6 554.5 1072.9 C555.8 1072.2 557.1 1071.6 558.3 1071.1 C559.6 1070.5 560.9 1070.1 562.2 1069.7 C563.4 1069.4 564.7 1069.1 566 1068.9 C567.2 1068.7 568.5 1068.5 569.8 1068.5 C571.1 1068.4 572.3 1068.5 573.6 1068.6 C574.9 1068.7 576.1 1068.9 577.4 1069.1 C578.7 1069.4 579.9 1069.7 581.2 1070.2 C582.5 1070.6 583.8 1071.1 585 1071.7 C586.3 1072.3 587.6 1072.9 588.8 1073.7 C590.1 1074.4 591.4 1075.3 592.7 1076.2 C593.9 1077.1 595.2 1078 596.5 1079.1 C597.7 1080.2 599 1081.3 600.3 1082.5 C601.6 1083.8 602.8 1085.1 604.1 1086.4 C605.4 1087.8 606.6 1089.3 607.9 1090.8 C609.2 1092.4 610.4 1094 611.7 1095.7 C613 1097.4 614.3 1099.2 615.5 1101 C616.8 1102.9 618.1 1104.8 619.3 1106.8 C620.6 1108.8 621.9 1110.9 623.2 1113.1 C624.4 1115.3 625.7 1117.5 627 1119.9 C628.2 1122.2 629.5 1124.6 630.8 1127.1 C632.1 1129.6 633.3 1132.2 634.6 1134.8 C635.9 1137.5 637.1 1140.2 638.4 1143 C639.7 1145.9 641 1148.7 642.2 1151.7 C643.5 1154.7 644.8 1157.7 646 1160.9 C647.3 1164 648.6 1167.2 649.8 1170.5 C651.1 1173.8 652.4 1177.1 653.7 1180.6 C654.9 1184 656.2 1187.6 657.5 1191.2 C658.7 1194.8 660 1198.5 661.3 1202.2 C662.6 1206 664.5 1211.9 665.1 1213.8" stroke="#000" stroke-width="2.9" stroke-linecap="round" stroke-dasharray="0.01 6"/>
<circle cx="516.4" cy="1104.9" r="5.7" fill="#000" stroke="#000" stroke-width="0"/>
<circle cx="535" cy="1098.3" r="5.7" fill="#000" stroke="#000" stroke-width="0"/>
<circle cx="553.2" cy="1085.1" r="5.7" fill="#000" stroke="#000" stroke-width="0"/>
<circle cx="572.1" cy="1073.9" r="5.7" fill="#000" stroke="#000" stroke-width="0"/>
<circle cx="590.8" cy="1070.3" r="5.7" fill="#000" stroke="#000" stroke-width="0"/>
<circle cx="609.4" cy="1084" r="5.7" fill="#000" stroke="#000" stroke-width="0"/>
<circle cx="628.4" cy="1115.3" r="5.7" fill="#000" stroke="#000" stroke-width="0"/>
<circle cx="646.5" cy="1163.6" r="5.7" fill="#000" stroke="#000" stroke-width="0"/>
<circle cx="665.1" cy="1219.6" r="5.7" fill="#000" stroke="#000" stroke-width="0"/>
</g>
<rect x="491.4" y="1034.6" width="247" height="250" fill="none" stroke="#000" stroke-width="2.9"/>
<text transform="translate(492 1017.7) scale(1 1.07)" font-size="18" font-weight="bold" text-anchor="middle" stroke="#000" stroke-width="0.45">0.43</text>
<text transform="translate(574.8 1017.7) scale(1 1.07)" font-size="18" font-weight="bold" text-anchor="middle" stroke="#000" stroke-width="0.45">0.44</text>
<text transform="translate(656.6 1017.7) scale(1 1.07)" font-size="18" font-weight="bold" text-anchor="middle" stroke="#000" stroke-width="0.45">0.45</text>
<text transform="translate(739 1017.7) scale(1 1.07)" font-size="18" font-weight="bold" text-anchor="middle" stroke="#000" stroke-width="0.45">0.46</text>
<text transform="translate(476 1041) scale(1 1.07)" font-size="18" font-weight="bold" text-anchor="end" stroke="#000" stroke-width="0.45">-10</text>
<text transform="translate(476 1102.8) scale(1 1.07)" font-size="18" font-weight="bold" text-anchor="end" stroke="#000" stroke-width="0.45">-10.5</text>
<text transform="translate(476 1165.4) scale(1 1.07)" font-size="18" font-weight="bold" text-anchor="end" stroke="#000" stroke-width="0.45">-11</text>
<text transform="translate(476 1228.4) scale(1 1.07)" font-size="18" font-weight="bold" text-anchor="end" stroke="#000" stroke-width="0.45">-11.5</text>
<text transform="translate(476 1290.4) scale(1 1.07)" font-size="18" font-weight="bold" text-anchor="end" stroke="#000" stroke-width="0.45">-12</text>
<text transform="translate(424.2 1159) rotate(-90) scale(1 1.07)" font-size="24" font-weight="bold" text-anchor="middle" textLength="209.6" lengthAdjust="spacingAndGlyphs" stroke="#000" stroke-width="0.45">Free Energy (kBT)</text>
<text transform="translate(615.5 1311) scale(1 1.07)" font-size="24" font-weight="bold" text-anchor="middle" textLength="195" lengthAdjust="spacingAndGlyphs" stroke="#000" stroke-width="0.45">Transmission (V)</text>
<path d="M886.5 647.4 V640.5 Q886.5 638.6 888.5 638.6 H1139.6 Q1141.6 638.6 1141.6 640.5 V647.4 M1014.2 638.6 V630.4" fill="none" stroke="#000" stroke-width="2.7"/>
<text transform="translate(987.8 603.4) scale(1.05 1)" font-size="40" font-weight="normal" text-anchor="start" stroke="#000" stroke-width="0.3">&#969;</text>
<text transform="translate(1019.7 612.7) scale(1 1.04)" font-size="28" font-weight="normal" text-anchor="start" stroke="#000" stroke-width="0.25">F</text>
<clipPath id="c207"><rect x="896.4" y="696.4" width="246.9" height="250.2"/></clipPath>
<g clip-path="url(#c207)" fill="none">
<polyline points="901.1,719 914.1,757.9 927.7,788.9 941,817.8 955,836.1 968.3,871.7 981.6,880.4 995.2,891.3 1008.2,898.3 1021.5,898.3 1035.2,891 1048.8,879.4 1062.1,866.4 1075.7,849.4 1089,831.1 1102.7,813.2" stroke="#4b8fd8" stroke-width="3.2" stroke-linejoin="round"/>
<path d="M901.1 719.6 C902 722.1 904.5 729.8 906.3 734.8 C908 739.7 909.7 744.5 911.4 749.3 C913.2 754 914.9 758.6 916.6 763.1 C918.3 767.5 920.1 771.9 921.8 776.2 C923.5 780.4 925.2 784.6 926.9 788.6 C928.7 792.7 930.4 796.6 932.1 800.4 C933.8 804.2 935.6 807.9 937.3 811.4 C939 815 940.7 818.5 942.5 821.8 C944.2 825.2 945.9 828.4 947.6 831.5 C949.3 834.7 951.1 837.7 952.8 840.6 C954.5 843.5 956.2 846.2 958 848.9 C959.7 851.6 961.4 854.1 963.1 856.6 C964.9 859 966.6 861.3 968.3 863.5 C970 865.8 971.7 867.9 973.5 869.8 C975.2 871.8 976.9 873.7 978.6 875.4 C980.4 877.2 982.1 878.8 983.8 880.4 C985.5 881.9 987.3 883.3 989 884.6 C990.7 885.9 992.4 887.1 994.1 888.2 C995.9 889.3 997.6 890.2 999.3 891.1 C1001 891.9 1002.8 892.6 1004.5 893.3 C1006.2 893.9 1007.9 894.4 1009.7 894.8 C1011.4 895.2 1013.1 895.5 1014.8 895.6 C1016.5 895.8 1018.3 895.8 1020 895.8 C1021.7 895.7 1023.4 895.5 1025.2 895.2 C1026.9 894.9 1028.6 894.5 1030.3 894 C1032.1 893.5 1033.8 892.9 1035.5 892.1 C1037.2 891.4 1038.9 890.5 1040.7 889.5 C1042.4 888.6 1044.1 887.5 1045.8 886.3 C1047.6 885.1 1049.3 883.8 1051 882.3 C1052.7 880.9 1054.5 879.4 1056.2 877.7 C1057.9 876.1 1059.6 874.3 1061.3 872.4 C1063.1 870.5 1064.8 868.5 1066.5 866.4 C1068.2 864.3 1070 862.1 1071.7 859.7 C1073.4 857.4 1075.1 854.9 1076.9 852.4 C1078.6 849.8 1080.3 847.1 1082 844.3 C1083.7 841.5 1085.5 838.6 1087.2 835.6 C1088.9 832.6 1090.6 829.5 1092.4 826.2 C1094.1 823 1095.8 819.6 1097.5 816.1 C1099.3 812.6 1101.8 807.1 1102.7 805.3" stroke="#4b8fd8" stroke-width="2.9" stroke-linecap="round" stroke-dasharray="0.01 6"/>
<circle cx="901.1" cy="719" r="4.8" fill="#5ab4ee" stroke="#4a9be0" stroke-width="1.3"/>
<circle cx="914.1" cy="757.9" r="4.8" fill="#5ab4ee" stroke="#4a9be0" stroke-width="1.3"/>
<circle cx="927.7" cy="788.9" r="4.8" fill="#5ab4ee" stroke="#4a9be0" stroke-width="1.3"/>
<circle cx="941" cy="817.8" r="4.8" fill="#5ab4ee" stroke="#4a9be0" stroke-width="1.3"/>
<circle cx="955" cy="836.1" r="4.8" fill="#5ab4ee" stroke="#4a9be0" stroke-width="1.3"/>
<circle cx="968.3" cy="871.7" r="4.8" fill="#5ab4ee" stroke="#4a9be0" stroke-width="1.3"/>
<circle cx="981.6" cy="880.4" r="4.8" fill="#5ab4ee" stroke="#4a9be0" stroke-width="1.3"/>
<circle cx="995.2" cy="891.3" r="4.8" fill="#5ab4ee" stroke="#4a9be0" stroke-width="1.3"/>
<circle cx="1008.2" cy="898.3" r="4.8" fill="#5ab4ee" stroke="#4a9be0" stroke-width="1.3"/>
<circle cx="1021.5" cy="898.3" r="4.8" fill="#5ab4ee" stroke="#4a9be0" stroke-width="1.3"/>
<circle cx="1035.2" cy="891" r="4.8" fill="#5ab4ee" stroke="#4a9be0" stroke-width="1.3"/>
<circle cx="1048.8" cy="879.4" r="4.8" fill="#5ab4ee" stroke="#4a9be0" stroke-width="1.3"/>
<circle cx="1062.1" cy="866.4" r="4.8" fill="#5ab4ee" stroke="#4a9be0" stroke-width="1.3"/>
<circle cx="1075.7" cy="849.4" r="4.8" fill="#5ab4ee" stroke="#4a9be0" stroke-width="1.3"/>
<circle cx="1089" cy="831.1" r="4.8" fill="#5ab4ee" stroke="#4a9be0" stroke-width="1.3"/>
<circle cx="1102.7" cy="813.2" r="4.8" fill="#5ab4ee" stroke="#4a9be0" stroke-width="1.3"/>
</g>
<rect x="896.4" y="696.4" width="246.9" height="250.2" fill="none" stroke="#000" stroke-width="2.9"/>
<text transform="translate(896.4 680.4) scale(1 1.07)" font-size="18" font-weight="bold" text-anchor="middle" stroke="#000" stroke-width="0.45">0.47</text>
<text transform="translate(1019.5 680.4) scale(1 1.07)" font-size="18" font-weight="bold" text-anchor="middle" stroke="#000" stroke-width="0.45">0.49</text>
<text transform="translate(1142.6 680.4) scale(1 1.07)" font-size="18" font-weight="bold" text-anchor="middle" stroke="#000" stroke-width="0.45">0.51</text>
<text transform="translate(879.8 702.8) scale(1 1.07)" font-size="18" font-weight="bold" text-anchor="end" stroke="#000" stroke-width="0.45">-12.5</text>
<text transform="translate(879.8 786) scale(1 1.07)" font-size="18" font-weight="bold" text-anchor="end" stroke="#000" stroke-width="0.45">-13</text>
<text transform="translate(879.8 869.1) scale(1 1.07)" font-size="18" font-weight="bold" text-anchor="end" stroke="#000" stroke-width="0.45">-13.5</text>
<text transform="translate(879.8 952.3) scale(1 1.07)" font-size="18" font-weight="bold" text-anchor="end" stroke="#000" stroke-width="0.45">-14</text>
<text transform="translate(828.1 821) rotate(-90) scale(1 1.07)" font-size="24" font-weight="bold" text-anchor="middle" textLength="209.6" lengthAdjust="spacingAndGlyphs" stroke="#000" stroke-width="0.45">Free Energy (kBT)</text>
<text transform="translate(1019.5 972.2) scale(1 1.07)" font-size="24" font-weight="bold" text-anchor="middle" textLength="195" lengthAdjust="spacingAndGlyphs" stroke="#000" stroke-width="0.45">Transmission (V)</text>
<clipPath id="c238"><rect x="894.2" y="1028" width="247.2" height="250.3"/></clipPath>
<g clip-path="url(#c238)" fill="none">
<polyline points="950.4,1074.4 968.5,1133.7 987.5,1174.9 1005.9,1209.2 1024.8,1232.8 1043.7,1250.1 1062.4,1258.6 1081,1261.9 1099.7,1259.4 1118.1,1255.3 1136.8,1246.5" stroke="#4b8fd8" stroke-width="3.2" stroke-linejoin="round"/>
<path d="M950.4 1083.1 C951.2 1085.3 953.6 1091.8 955.2 1096 C956.8 1100.2 958.4 1104.3 960 1108.3 C961.6 1112.4 963.1 1116.4 964.7 1120.3 C966.3 1124.2 967.9 1128 969.5 1131.7 C971.1 1135.5 972.7 1139.1 974.3 1142.7 C975.9 1146.3 977.5 1149.8 979.1 1153.2 C980.7 1156.7 982.3 1160 983.9 1163.3 C985.4 1166.6 987 1169.8 988.6 1172.9 C990.2 1176 991.8 1179 993.4 1182 C995 1185 996.6 1187.9 998.2 1190.7 C999.8 1193.5 1001.4 1196.2 1003 1198.9 C1004.6 1201.5 1006.2 1204.1 1007.8 1206.6 C1009.3 1209.1 1010.9 1211.5 1012.5 1213.9 C1014.1 1216.2 1015.7 1218.5 1017.3 1220.7 C1018.9 1222.9 1020.5 1225 1022.1 1227 C1023.7 1229.1 1025.3 1231 1026.9 1232.9 C1028.5 1234.8 1030.1 1236.6 1031.7 1238.3 C1033.2 1240 1034.8 1241.7 1036.4 1243.3 C1038 1244.8 1039.6 1246.3 1041.2 1247.8 C1042.8 1249.2 1044.4 1250.5 1046 1251.8 C1047.6 1253 1049.2 1254.2 1050.8 1255.3 C1052.4 1256.4 1054 1257.5 1055.5 1258.4 C1057.1 1259.4 1058.7 1260.2 1060.3 1261 C1061.9 1261.8 1063.5 1262.5 1065.1 1263.2 C1066.7 1263.8 1068.3 1264.4 1069.9 1264.9 C1071.5 1265.4 1073.1 1265.8 1074.7 1266.1 C1076.3 1266.4 1077.9 1266.7 1079.4 1266.9 C1081 1267 1082.6 1267.1 1084.2 1267.2 C1085.8 1267.2 1087.4 1267.1 1089 1267 C1090.6 1266.9 1092.2 1266.7 1093.8 1266.4 C1095.4 1266.1 1097 1265.7 1098.6 1265.3 C1100.2 1264.8 1101.8 1264.3 1103.3 1263.7 C1104.9 1263.1 1106.5 1262.4 1108.1 1261.7 C1109.7 1260.9 1111.3 1260.1 1112.9 1259.2 C1114.5 1258.3 1116.1 1257.3 1117.7 1256.2 C1119.3 1255.2 1120.9 1254 1122.5 1252.8 C1124.1 1251.6 1125.6 1250.3 1127.2 1248.9 C1128.8 1247.6 1130.4 1246.1 1132 1244.6 C1133.6 1243.1 1136 1240.6 1136.8 1239.8" stroke="#4b8fd8" stroke-width="2.9" stroke-linecap="round" stroke-dasharray="0.01 6"/>
<circle cx="950.4" cy="1074.4" r="4.8" fill="#5ab4ee" stroke="#4a9be0" stroke-width="1.3"/>
<circle cx="968.5" cy="1133.7" r="4.8" fill="#5ab4ee" stroke="#4a9be0" stroke-width="1.3"/>
<circle cx="987.5" cy="1174.9" r="4.8" fill="#5ab4ee" stroke="#4a9be0" stroke-width="1.3"/>
<circle cx="1005.9" cy="1209.2" r="4.8" fill="#5ab4ee" stroke="#4a9be0" stroke-width="1.3"/>
<circle cx="1024.8" cy="1232.8" r="4.8" fill="#5ab4ee" stroke="#4a9be0" stroke-width="1.3"/>
<circle cx="1043.7" cy="1250.1" r="4.8" fill="#5ab4ee" stroke="#4a9be0" stroke-width="1.3"/>
<circle cx="1062.4" cy="1258.6" r="4.8" fill="#5ab4ee" stroke="#4a9be0" stroke-width="1.3"/>
<circle cx="1081" cy="1261.9" r="4.8" fill="#5ab4ee" stroke="#4a9be0" stroke-width="1.3"/>
<circle cx="1099.7" cy="1259.4" r="4.8" fill="#5ab4ee" stroke="#4a9be0" stroke-width="1.3"/>
<circle cx="1118.1" cy="1255.3" r="4.8" fill="#5ab4ee" stroke="#4a9be0" stroke-width="1.3"/>
<circle cx="1136.8" cy="1246.5" r="4.8" fill="#5ab4ee" stroke="#4a9be0" stroke-width="1.3"/>
</g>
<rect x="894.2" y="1028" width="247.2" height="250.3" fill="none" stroke="#000" stroke-width="2.9"/>
<text transform="translate(893.3 1012.2) scale(1 1.07)" font-size="18" font-weight="bold" text-anchor="middle" stroke="#000" stroke-width="0.45">0.46</text>
<text transform="translate(975.4 1012.2) scale(1 1.07)" font-size="18" font-weight="bold" text-anchor="middle" stroke="#000" stroke-width="0.45">0.47</text>
<text transform="translate(1057.7 1012.2) scale(1 1.07)" font-size="18" font-weight="bold" text-anchor="middle" stroke="#000" stroke-width="0.45">0.48</text>
<text transform="translate(1140.3 1012.2) scale(1 1.07)" font-size="18" font-weight="bold" text-anchor="middle" stroke="#000" stroke-width="0.45">0.49</text>
<text transform="translate(876.6 1035.6) scale(1 1.07)" font-size="18" font-weight="bold" text-anchor="end" stroke="#000" stroke-width="0.45">-14</text>
<text transform="translate(876.6 1085) scale(1 1.07)" font-size="18" font-weight="bold" text-anchor="end" stroke="#000" stroke-width="0.45">-14.1</text>
<text transform="translate(876.6 1134.4) scale(1 1.07)" font-size="18" font-weight="bold" text-anchor="end" stroke="#000" stroke-width="0.45">-14.2</text>
<text transform="translate(876.6 1184.6) scale(1 1.07)" font-size="18" font-weight="bold" text-anchor="end" stroke="#000" stroke-width="0.45">-14.3</text>
<text transform="translate(876.6 1234.5) scale(1 1.07)" font-size="18" font-weight="bold" text-anchor="end" stroke="#000" stroke-width="0.45">-14.4</text>
<text transform="translate(876.6 1284.7) scale(1 1.07)" font-size="18" font-weight="bold" text-anchor="end" stroke="#000" stroke-width="0.45">-14.5</text>
<text transform="translate(824.2 1154.2) rotate(-90) scale(1 1.07)" font-size="24" font-weight="bold" text-anchor="middle" textLength="209.6" lengthAdjust="spacingAndGlyphs" stroke="#000" stroke-width="0.45">Free Energy (kBT)</text>
<text transform="translate(1016.9 1304.2) scale(1 1.07)" font-size="24" font-weight="bold" text-anchor="middle" textLength="195" lengthAdjust="spacingAndGlyphs" stroke="#000" stroke-width="0.45">Transmission (V)</text>
<path d="M1305 647.4 V640.5 Q1305 638.6 1307 638.6 H1558.6 Q1560.6 638.6 1560.6 640.5 V647.4 M1432.8 638.6 V630.4" fill="none" stroke="#000" stroke-width="2.7"/>
<text transform="translate(1397.8 603.4) scale(1.05 1)" font-size="40" font-weight="normal" text-anchor="start" stroke="#000" stroke-width="0.3">&#969;</text>
<text transform="translate(1429.7 612.7) scale(1 1.04)" font-size="28" font-weight="normal" text-anchor="start" stroke="#000" stroke-width="0.25">FE</text>
<clipPath id="c270"><rect x="1318.4" y="702" width="246.8" height="248.9"/></clipPath>
<g clip-path="url(#c270)" fill="none">
<polyline points="1352,924.9 1376.9,862.4 1401.9,815.2 1426.5,781.6 1451.5,780.2 1476.1,792.5 1500.4,872.4" stroke="#000" stroke-width="3" stroke-linejoin="round"/>
<path d="M1352 932.5 C1352.6 930.2 1354.5 923.5 1355.8 919.2 C1357.1 914.8 1358.3 910.6 1359.6 906.4 C1360.9 902.3 1362.1 898.3 1363.4 894.3 C1364.7 890.4 1366 886.6 1367.2 882.9 C1368.5 879.1 1369.8 875.5 1371 872 C1372.3 868.4 1373.6 865 1374.8 861.7 C1376.1 858.3 1377.4 855.1 1378.6 852 C1379.9 848.9 1381.2 845.8 1382.4 842.9 C1383.7 840 1385 837.1 1386.2 834.4 C1387.5 831.7 1388.8 829.1 1390.1 826.5 C1391.3 824 1392.6 821.6 1393.9 819.3 C1395.1 816.9 1396.4 814.7 1397.7 812.6 C1398.9 810.5 1400.2 808.5 1401.5 806.5 C1402.7 804.6 1404 802.8 1405.3 801.1 C1406.5 799.3 1407.8 797.7 1409.1 796.2 C1410.3 794.7 1411.6 793.3 1412.9 791.9 C1414.2 790.6 1415.4 789.4 1416.7 788.3 C1418 787.2 1419.2 786.2 1420.5 785.2 C1421.8 784.3 1423 783.5 1424.3 782.8 C1425.6 782.1 1426.8 781.5 1428.1 781 C1429.4 780.4 1430.6 780 1431.9 779.7 C1433.2 779.4 1434.4 779.2 1435.7 779.1 C1437 779 1438.2 778.9 1439.5 779 C1440.8 779.1 1442.1 779.3 1443.3 779.6 C1444.6 779.9 1445.9 780.3 1447.1 780.8 C1448.4 781.3 1449.7 781.9 1450.9 782.6 C1452.2 783.2 1453.5 784 1454.7 784.9 C1456 785.8 1457.3 786.8 1458.5 787.9 C1459.8 789 1461.1 790.2 1462.3 791.5 C1463.6 792.8 1464.9 794.2 1466.2 795.7 C1467.4 797.2 1468.7 798.8 1470 800.5 C1471.2 802.2 1472.5 804 1473.8 805.9 C1475 807.8 1476.3 809.8 1477.6 811.9 C1478.8 814 1480.1 816.2 1481.4 818.5 C1482.6 820.8 1483.9 823.2 1485.2 825.7 C1486.4 828.2 1487.7 830.8 1489 833.5 C1490.3 836.2 1491.5 839 1492.8 841.9 C1494.1 844.8 1495.3 847.8 1496.6 850.9 C1497.9 854 1499.8 858.9 1500.4 860.5" stroke="#000" stroke-width="2.9" stroke-linecap="round" stroke-dasharray="0.01 6"/>
<circle cx="1352" cy="924.9" r="5.7" fill="#000" stroke="#000" stroke-width="0"/>
<circle cx="1376.9" cy="862.4" r="5.7" fill="#000" stroke="#000" stroke-width="0"/>
<circle cx="1401.9" cy="815.2" r="5.7" fill="#000" stroke="#000" stroke-width="0"/>
<circle cx="1426.5" cy="781.6" r="5.7" fill="#000" stroke="#000" stroke-width="0"/>
<circle cx="1451.5" cy="780.2" r="5.7" fill="#000" stroke="#000" stroke-width="0"/>
<circle cx="1476.1" cy="792.5" r="5.7" fill="#000" stroke="#000" stroke-width="0"/>
<circle cx="1500.4" cy="872.4" r="5.7" fill="#000" stroke="#000" stroke-width="0"/>
</g>
<rect x="1318.4" y="702" width="246.8" height="248.9" fill="none" stroke="#000" stroke-width="2.9"/>
<text transform="translate(1318.4 682.2) scale(1 1.07)" font-size="18" font-weight="bold" text-anchor="middle" stroke="#000" stroke-width="0.45">0.52</text>
<text transform="translate(1431.5 682.2) scale(1 1.07)" font-size="18" font-weight="bold" text-anchor="middle" stroke="#000" stroke-width="0.45">0.53</text>
<text transform="translate(1545.3 682.2) scale(1 1.07)" font-size="18" font-weight="bold" text-anchor="middle" stroke="#000" stroke-width="0.45">0.54</text>
<text transform="translate(1299.8 707.8) scale(1 1.07)" font-size="18" font-weight="bold" text-anchor="end" stroke="#000" stroke-width="0.45">-12.3</text>
<text transform="translate(1299.8 789.3) scale(1 1.07)" font-size="18" font-weight="bold" text-anchor="end" stroke="#000" stroke-width="0.45">-12.35</text>
<text transform="translate(1299.8 871.4) scale(1 1.07)" font-size="18" font-weight="bold" text-anchor="end" stroke="#000" stroke-width="0.45">-12.4</text>
<text transform="translate(1299.8 953.3) scale(1 1.07)" font-size="18" font-weight="bold" text-anchor="end" stroke="#000" stroke-width="0.45">-12.45</text>
<text transform="translate(1231.5 823.6) rotate(-90) scale(1 1.07)" font-size="24" font-weight="bold" text-anchor="middle" textLength="209.6" lengthAdjust="spacingAndGlyphs" stroke="#000" stroke-width="0.45">Free Energy (kBT)</text>
<text transform="translate(1430.7 973.2) scale(1 1.07)" font-size="24" font-weight="bold" text-anchor="middle" textLength="195" lengthAdjust="spacingAndGlyphs" stroke="#000" stroke-width="0.45">Transmission (V)</text>
<clipPath id="c292"><rect x="1320.2" y="1030.5" width="247" height="249.5"/></clipPath>
<g clip-path="url(#c292)" fill="none">
<polyline points="1394.6,1220.7 1412.7,1165 1430.5,1122.7 1448.7,1094.2 1466.5,1095.8 1484.1,1130.1 1502.4,1166.1 1520,1241.3" stroke="#000" stroke-width="3" stroke-linejoin="round"/>
<path d="M1394.6 1224.9 C1395.1 1222.7 1396.7 1216 1397.8 1211.7 C1398.9 1207.4 1400 1203.3 1401 1199.3 C1402.1 1195.2 1403.2 1191.3 1404.2 1187.5 C1405.3 1183.7 1406.4 1180 1407.5 1176.5 C1408.5 1172.9 1409.6 1169.5 1410.7 1166.2 C1411.7 1162.8 1412.8 1159.6 1413.9 1156.6 C1415 1153.5 1416 1150.5 1417.1 1147.7 C1418.2 1144.8 1419.3 1142.1 1420.3 1139.5 C1421.4 1136.9 1422.5 1134.4 1423.5 1132 C1424.6 1129.6 1425.7 1127.4 1426.8 1125.3 C1427.8 1123.1 1428.9 1121.1 1430 1119.2 C1431 1117.3 1432.1 1115.5 1433.2 1113.9 C1434.3 1112.2 1435.3 1110.7 1436.4 1109.2 C1437.5 1107.8 1438.5 1106.5 1439.6 1105.3 C1440.7 1104.1 1441.8 1103.1 1442.8 1102.1 C1443.9 1101.2 1445 1100.3 1446 1099.6 C1447.1 1098.9 1448.2 1098.3 1449.3 1097.8 C1450.3 1097.4 1451.4 1097 1452.5 1096.8 C1453.5 1096.5 1454.6 1096.4 1455.7 1096.4 C1456.8 1096.4 1457.8 1096.5 1458.9 1096.8 C1460 1097 1461.1 1097.4 1462.1 1097.8 C1463.2 1098.3 1464.3 1098.9 1465.3 1099.6 C1466.4 1100.3 1467.5 1101.1 1468.6 1102.1 C1469.6 1103 1470.7 1104.1 1471.8 1105.3 C1472.8 1106.5 1473.9 1107.8 1475 1109.2 C1476.1 1110.6 1477.1 1112.2 1478.2 1113.8 C1479.3 1115.5 1480.3 1117.3 1481.4 1119.2 C1482.5 1121.1 1483.6 1123.1 1484.6 1125.2 C1485.7 1127.3 1486.8 1129.6 1487.8 1132 C1488.9 1134.3 1490 1136.8 1491.1 1139.4 C1492.1 1142 1493.2 1144.8 1494.3 1147.6 C1495.3 1150.4 1496.4 1153.4 1497.5 1156.5 C1498.6 1159.6 1499.6 1162.8 1500.7 1166.1 C1501.8 1169.4 1502.9 1172.8 1503.9 1176.4 C1505 1179.9 1506.1 1183.6 1507.1 1187.4 C1508.2 1191.2 1509.3 1195.1 1510.4 1199.1 C1511.4 1203.2 1512.5 1207.3 1513.6 1211.6 C1514.6 1215.9 1515.7 1220.2 1516.8 1224.7 C1517.9 1229.3 1519.5 1236.3 1520 1238.6" stroke="#000" stroke-width="2.9" stroke-linecap="round" stroke-dasharray="0.01 6"/>
<circle cx="1394.6" cy="1220.7" r="5.7" fill="#000" stroke="#000" stroke-width="0"/>
<circle cx="1412.7" cy="1165" r="5.7" fill="#000" stroke="#000" stroke-width="0"/>
<circle cx="1430.5" cy="1122.7" r="5.7" fill="#000" stroke="#000" stroke-width="0"/>
<circle cx="1448.7" cy="1094.2" r="5.7" fill="#000" stroke="#000" stroke-width="0"/>
<circle cx="1466.5" cy="1095.8" r="5.7" fill="#000" stroke="#000" stroke-width="0"/>
<circle cx="1484.1" cy="1130.1" r="5.7" fill="#000" stroke="#000" stroke-width="0"/>
<circle cx="1502.4" cy="1166.1" r="5.7" fill="#000" stroke="#000" stroke-width="0"/>
<circle cx="1520" cy="1241.3" r="5.7" fill="#000" stroke="#000" stroke-width="0"/>
</g>
<rect x="1320.2" y="1030.5" width="247" height="249.5" fill="none" stroke="#000" stroke-width="2.9"/>
<text transform="translate(1319.4 1013.6) scale(1 1.07)" font-size="18" font-weight="bold" text-anchor="middle" stroke="#000" stroke-width="0.45">0.48</text>
<text transform="translate(1398.2 1013.6) scale(1 1.07)" font-size="18" font-weight="bold" text-anchor="middle" stroke="#000" stroke-width="0.45">0.49</text>
<text transform="translate(1476.9 1013.6) scale(1 1.07)" font-size="18" font-weight="bold" text-anchor="middle" stroke="#000" stroke-width="0.45">0.5</text>
<text transform="translate(1555.1 1013.6) scale(1 1.07)" font-size="18" font-weight="bold" text-anchor="middle" stroke="#000" stroke-width="0.45">0.51</text>
<text transform="translate(1302.7 1036.9) scale(1 1.07)" font-size="18" font-weight="bold" text-anchor="end" stroke="#000" stroke-width="0.45">-14.35</text>
<text transform="translate(1302.7 1161.8) scale(1 1.07)" font-size="18" font-weight="bold" text-anchor="end" stroke="#000" stroke-width="0.45">-14.4</text>
<text transform="translate(1302.7 1286.4) scale(1 1.07)" font-size="18" font-weight="bold" text-anchor="end" stroke="#000" stroke-width="0.45">-14.45</text>
<text transform="translate(1240.7 1154.2) rotate(-90) scale(1 1.07)" font-size="24" font-weight="bold" text-anchor="middle" textLength="209.6" lengthAdjust="spacingAndGlyphs" stroke="#000" stroke-width="0.45">Free Energy (kBT)</text>
<text transform="translate(1437.2 1306) scale(1 1.07)" font-size="24" font-weight="bold" text-anchor="middle" textLength="195" lengthAdjust="spacingAndGlyphs" stroke="#000" stroke-width="0.45">Transmission (V)</text>
<path d="M1702.3 647.4 V640.5 Q1702.3 638.6 1704.3 638.6 H1956.1 Q1958.1 638.6 1958.1 640.5 V647.4 M1830 638.6 V630.4" fill="none" stroke="#000" stroke-width="2.7"/>
<text transform="translate(1803.6 603.4) scale(1.05 1)" font-size="40" font-weight="normal" text-anchor="start" stroke="#000" stroke-width="0.3">&#969;</text>
<text transform="translate(1835.5 612.7) scale(1 1.04)" font-size="28" font-weight="normal" text-anchor="start" stroke="#000" stroke-width="0.25">E</text>
<clipPath id="c318"><rect x="1705.3" y="696.4" width="247.1" height="249.5"/></clipPath>
<g clip-path="url(#c318)" fill="none">
<polyline points="1738.5,874.4 1773.8,885 1810,883 1845.6,855.7 1881.6,809.2 1917.8,711" stroke="#cc1c0e" stroke-width="3.5" stroke-linejoin="round"/>
<path d="M1738.5 870.1 C1739.3 870.8 1741.6 872.9 1743.1 874.2 C1744.6 875.5 1746.2 876.7 1747.7 877.9 C1749.2 879 1750.8 880.1 1752.3 881.1 C1753.8 882.1 1755.4 883.1 1756.9 883.9 C1758.4 884.8 1760 885.6 1761.5 886.3 C1763 887.1 1764.6 887.7 1766.1 888.3 C1767.6 888.9 1769.1 889.4 1770.7 889.9 C1772.2 890.3 1773.7 890.7 1775.3 891 C1776.8 891.3 1778.3 891.5 1779.9 891.7 C1781.4 891.9 1782.9 892 1784.5 892 C1786 892 1787.5 892 1789.1 891.9 C1790.6 891.7 1792.1 891.6 1793.7 891.3 C1795.2 891 1796.7 890.7 1798.3 890.3 C1799.8 889.9 1801.3 889.5 1802.9 888.9 C1804.4 888.4 1805.9 887.8 1807.5 887.1 C1809 886.4 1810.5 885.7 1812.1 884.8 C1813.6 884 1815.1 883.1 1816.7 882.2 C1818.2 881.2 1819.7 880.2 1821.3 879.1 C1822.8 878 1824.3 876.8 1825.9 875.6 C1827.4 874.3 1828.9 873 1830.4 871.6 C1832 870.3 1833.5 868.8 1835 867.3 C1836.6 865.8 1838.1 864.2 1839.6 862.5 C1841.2 860.8 1842.7 859.1 1844.2 857.3 C1845.8 855.5 1847.3 853.6 1848.8 851.7 C1850.4 849.7 1851.9 847.7 1853.4 845.6 C1855 843.5 1856.5 841.4 1858 839.2 C1859.6 836.9 1861.1 834.6 1862.6 832.3 C1864.2 829.9 1865.7 827.5 1867.2 824.9 C1868.8 822.4 1870.3 819.9 1871.8 817.2 C1873.4 814.6 1874.9 811.8 1876.4 809 C1878 806.3 1879.5 803.4 1881 800.5 C1882.6 797.5 1884.1 794.5 1885.6 791.5 C1887.2 788.4 1888.7 785.2 1890.2 782 C1891.7 778.8 1893.3 775.5 1894.8 772.2 C1896.3 768.8 1897.9 765.4 1899.4 761.9 C1900.9 758.4 1902.5 754.9 1904 751.2 C1905.5 747.6 1907.1 743.9 1908.6 740.1 C1910.1 736.3 1911.7 732.5 1913.2 728.6 C1914.7 724.6 1917 718.6 1917.8 716.6" stroke="#cc1c0e" stroke-width="2.9" stroke-linecap="round" stroke-dasharray="0.01 6"/>
<circle cx="1738.5" cy="874.4" r="5" fill="#f5241a" stroke="#d81c12" stroke-width="1.3"/>
<circle cx="1773.8" cy="885" r="5" fill="#f5241a" stroke="#d81c12" stroke-width="1.3"/>
<circle cx="1810" cy="883" r="5" fill="#f5241a" stroke="#d81c12" stroke-width="1.3"/>
<circle cx="1845.6" cy="855.7" r="5" fill="#f5241a" stroke="#d81c12" stroke-width="1.3"/>
<circle cx="1881.6" cy="809.2" r="5" fill="#f5241a" stroke="#d81c12" stroke-width="1.3"/>
<circle cx="1917.8" cy="711" r="5" fill="#f5241a" stroke="#d81c12" stroke-width="1.3"/>
</g>
<rect x="1705.3" y="696.4" width="247.1" height="249.5" fill="none" stroke="#000" stroke-width="2.9"/>
<text transform="translate(1705.3 679.4) scale(1 1.07)" font-size="18" font-weight="bold" text-anchor="middle" stroke="#000" stroke-width="0.45">0.545</text>
<text transform="translate(1787.4 679.4) scale(1 1.07)" font-size="18" font-weight="bold" text-anchor="middle" stroke="#000" stroke-width="0.45">0.55</text>
<text transform="translate(1869.3 679.4) scale(1 1.07)" font-size="18" font-weight="bold" text-anchor="middle" stroke="#000" stroke-width="0.45">0.555</text>
<text transform="translate(1951.8 679.4) scale(1 1.07)" font-size="18" font-weight="bold" text-anchor="middle" stroke="#000" stroke-width="0.45">0.56</text>
<text transform="translate(1689.6 702.1) scale(1 1.07)" font-size="18" font-weight="bold" text-anchor="end" stroke="#000" stroke-width="0.45">-12.1</text>
<text transform="translate(1689.6 764.4) scale(1 1.07)" font-size="18" font-weight="bold" text-anchor="end" stroke="#000" stroke-width="0.45">-12.2</text>
<text transform="translate(1689.6 826.5) scale(1 1.07)" font-size="18" font-weight="bold" text-anchor="end" stroke="#000" stroke-width="0.45">-12.3</text>
<text transform="translate(1689.6 888.4) scale(1 1.07)" font-size="18" font-weight="bold" text-anchor="end" stroke="#000" stroke-width="0.45">-12.4</text>
<text transform="translate(1689.6 951.6) scale(1 1.07)" font-size="18" font-weight="bold" text-anchor="end" stroke="#000" stroke-width="0.45">-12.5</text>
<text transform="translate(1636.3 820.3) rotate(-90) scale(1 1.07)" font-size="24" font-weight="bold" text-anchor="middle" textLength="209.6" lengthAdjust="spacingAndGlyphs" stroke="#000" stroke-width="0.45">Free Energy (kBT)</text>
<text transform="translate(1828.5 971.5) scale(1 1.07)" font-size="24" font-weight="bold" text-anchor="middle" textLength="195" lengthAdjust="spacingAndGlyphs" stroke="#000" stroke-width="0.45">Transmission (V)</text>
<clipPath id="c341"><rect x="1711.9" y="1031.9" width="246.9" height="249.7"/></clipPath>
<g clip-path="url(#c341)" fill="none">
<polyline points="1731.1,1182.6 1749.5,1203.7 1768.4,1217.1 1787,1231.7 1805.7,1234.4 1824.4,1232.5 1843,1216.6 1861.7,1183.7 1880.1,1141.7 1899,1079.9" stroke="#cc1c0e" stroke-width="3.5" stroke-linejoin="round"/>
<path d="M1731.1 1174.2 C1731.8 1175.5 1734 1179.7 1735.4 1182.3 C1736.8 1184.9 1738.3 1187.4 1739.7 1189.9 C1741.1 1192.3 1742.6 1194.6 1744 1196.9 C1745.5 1199.2 1746.9 1201.3 1748.3 1203.4 C1749.8 1205.5 1751.2 1207.5 1752.6 1209.3 C1754.1 1211.2 1755.5 1213 1756.9 1214.8 C1758.4 1216.5 1759.8 1218.1 1761.2 1219.6 C1762.7 1221.1 1764.1 1222.6 1765.5 1223.9 C1767 1225.3 1768.4 1226.5 1769.8 1227.7 C1771.3 1228.9 1772.7 1230 1774.2 1230.9 C1775.6 1231.9 1777 1232.8 1778.5 1233.6 C1779.9 1234.4 1781.3 1235.1 1782.8 1235.8 C1784.2 1236.4 1785.6 1236.9 1787.1 1237.4 C1788.5 1237.8 1789.9 1238.2 1791.4 1238.4 C1792.8 1238.7 1794.2 1238.9 1795.7 1238.9 C1797.1 1239 1798.5 1239 1800 1238.9 C1801.4 1238.8 1802.9 1238.6 1804.3 1238.3 C1805.7 1238 1807.2 1237.7 1808.6 1237.2 C1810 1236.7 1811.5 1236.2 1812.9 1235.5 C1814.3 1234.9 1815.8 1234.2 1817.2 1233.3 C1818.6 1232.5 1820.1 1231.6 1821.5 1230.6 C1822.9 1229.6 1824.4 1228.5 1825.8 1227.3 C1827.2 1226.1 1828.7 1224.8 1830.1 1223.4 C1831.6 1222.1 1833 1220.6 1834.4 1219.1 C1835.9 1217.5 1837.3 1215.9 1838.7 1214.1 C1840.2 1212.4 1841.6 1210.6 1843 1208.7 C1844.5 1206.7 1845.9 1204.7 1847.3 1202.6 C1848.8 1200.5 1850.2 1198.4 1851.6 1196.1 C1853.1 1193.8 1854.5 1191.4 1855.9 1189 C1857.4 1186.5 1858.8 1184 1860.3 1181.3 C1861.7 1178.7 1863.1 1176 1864.6 1173.1 C1866 1170.3 1867.4 1167.4 1868.9 1164.4 C1870.3 1161.4 1871.7 1158.3 1873.2 1155.1 C1874.6 1151.9 1876 1148.7 1877.5 1145.3 C1878.9 1141.9 1880.3 1138.5 1881.8 1134.9 C1883.2 1131.4 1884.6 1127.7 1886.1 1124 C1887.5 1120.3 1889 1116.5 1890.4 1112.6 C1891.8 1108.6 1893.3 1104.6 1894.7 1100.6 C1896.1 1096.5 1898.3 1090.1 1899 1088" stroke="#cc1c0e" stroke-width="2.9" stroke-linecap="round" stroke-dasharray="0.01 6"/>
<circle cx="1731.1" cy="1182.6" r="5" fill="#f5241a" stroke="#d81c12" stroke-width="1.3"/>
<circle cx="1749.5" cy="1203.7" r="5" fill="#f5241a" stroke="#d81c12" stroke-width="1.3"/>
<circle cx="1768.4" cy="1217.1" r="5" fill="#f5241a" stroke="#d81c12" stroke-width="1.3"/>
<circle cx="1787" cy="1231.7" r="5" fill="#f5241a" stroke="#d81c12" stroke-width="1.3"/>
<circle cx="1805.7" cy="1234.4" r="5" fill="#f5241a" stroke="#d81c12" stroke-width="1.3"/>
<circle cx="1824.4" cy="1232.5" r="5" fill="#f5241a" stroke="#d81c12" stroke-width="1.3"/>
<circle cx="1843" cy="1216.6" r="5" fill="#f5241a" stroke="#d81c12" stroke-width="1.3"/>
<circle cx="1861.7" cy="1183.7" r="5" fill="#f5241a" stroke="#d81c12" stroke-width="1.3"/>
<circle cx="1880.1" cy="1141.7" r="5" fill="#f5241a" stroke="#d81c12" stroke-width="1.3"/>
<circle cx="1899" cy="1079.9" r="5" fill="#f5241a" stroke="#d81c12" stroke-width="1.3"/>
</g>
<rect x="1711.9" y="1031.9" width="246.9" height="249.7" fill="none" stroke="#000" stroke-width="2.9"/>
<text transform="translate(1711.3 1015.2) scale(1 1.07)" font-size="18" font-weight="bold" text-anchor="middle" stroke="#000" stroke-width="0.45">0.51</text>
<text transform="translate(1794.2 1015.2) scale(1 1.07)" font-size="18" font-weight="bold" text-anchor="middle" stroke="#000" stroke-width="0.45">0.52</text>
<text transform="translate(1876.5 1015.2) scale(1 1.07)" font-size="18" font-weight="bold" text-anchor="middle" stroke="#000" stroke-width="0.45">0.53</text>
<text transform="translate(1958.8 1015.2) scale(1 1.07)" font-size="18" font-weight="bold" text-anchor="middle" stroke="#000" stroke-width="0.45">0.54</text>
<text transform="translate(1695.4 1037.7) scale(1 1.07)" font-size="18" font-weight="bold" text-anchor="end" stroke="#000" stroke-width="0.45">-14.2</text>
<text transform="translate(1695.4 1087.1) scale(1 1.07)" font-size="18" font-weight="bold" text-anchor="end" stroke="#000" stroke-width="0.45">-14.3</text>
<text transform="translate(1695.4 1137.1) scale(1 1.07)" font-size="18" font-weight="bold" text-anchor="end" stroke="#000" stroke-width="0.45">-14.4</text>
<text transform="translate(1695.4 1186.8) scale(1 1.07)" font-size="18" font-weight="bold" text-anchor="end" stroke="#000" stroke-width="0.45">-14.5</text>
<text transform="translate(1695.4 1236.7) scale(1 1.07)" font-size="18" font-weight="bold" text-anchor="end" stroke="#000" stroke-width="0.45">-14.6</text>
<text transform="translate(1695.4 1286.1) scale(1 1.07)" font-size="18" font-weight="bold" text-anchor="end" stroke="#000" stroke-width="0.45">-14.7</text>
<text transform="translate(1643 1155.5) rotate(-90) scale(1 1.07)" font-size="24" font-weight="bold" text-anchor="middle" textLength="209.6" lengthAdjust="spacingAndGlyphs" stroke="#000" stroke-width="0.45">Free Energy (kBT)</text>
<text transform="translate(1835 1306.9) scale(1 1.07)" font-size="24" font-weight="bold" text-anchor="middle" textLength="195" lengthAdjust="spacingAndGlyphs" stroke="#000" stroke-width="0.45">Transmission (V)</text>
</svg>
</body>
</html>
